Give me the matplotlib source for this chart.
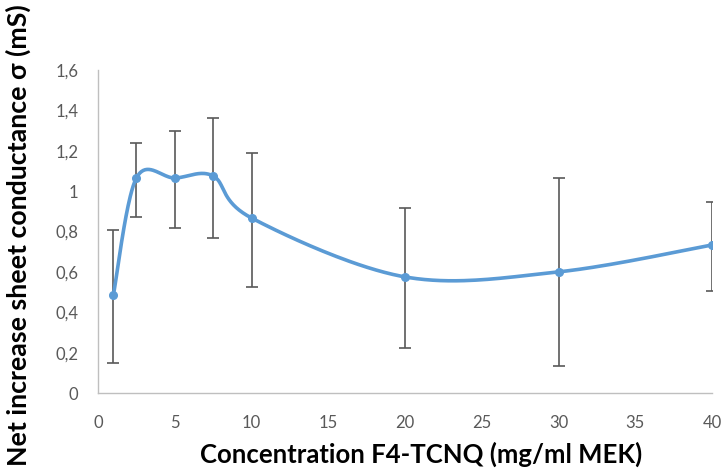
import numpy as np
import matplotlib
matplotlib.use("Agg")
import matplotlib.pyplot as plt
from matplotlib.ticker import FuncFormatter

# Data
concentration = [1, 2.5, 5, 7.5, 10, 20, 30, 40]
conductance = [0.485, 1.065, 1.065, 1.075, 0.867, 0.575, 0.600, 0.733]
err_upper = [0.807, 1.238, 1.298, 1.362, 1.189, 0.916, 1.065, 0.946]
err_lower = [0.149, 0.872, 0.817, 0.768, 0.525, 0.223, 0.134, 0.505]

x_ticks = [0, 5, 10, 15, 20, 25, 30, 35, 40]
y_ticks = [0, 0.2, 0.4, 0.6, 0.8, 1.0, 1.2, 1.4, 1.6]

x_label = "Concentration F4-TCNQ (mg/ml MEK)"
y_label = "Net increase sheet conductance σ (mS)"

plt.rcParams['font.family'] = ['Lato', 'DejaVu Sans']

fig = plt.figure(figsize=(7.28, 4.70), dpi=100)
ax = fig.add_axes([98/728, 1 - 393/470, (712-98)/728, (393-70)/470])

# Excel-like smoothed line (Catmull-Rom -> cubic Bezier)
x = np.array(concentration, float)
y = np.array(conductance, float)
pts = np.column_stack([x, y])
curve = []
t = np.linspace(0, 1, 40)
n = len(pts)
for i in range(n - 1):
    p0 = pts[i]
    p3 = pts[i + 1]
    pm = pts[i - 1] if i > 0 else pts[i]
    pp = pts[i + 2] if i + 2 < n else pts[i + 1]
    c1 = p0 + (p3 - pm) / 6.0
    c2 = p3 - (pp - p0) / 6.0
    seg = ((1 - t)[:, None] ** 3 * p0 + 3 * ((1 - t) ** 2 * t)[:, None] * c1
           + 3 * ((1 - t) * t ** 2)[:, None] * c2 + (t ** 3)[:, None] * p3)
    curve.append(seg)
curve = np.vstack(curve)

yerr = np.array([y - np.array(err_lower), np.array(err_upper) - y])
ax.errorbar(x, y, yerr=yerr, fmt='none', ecolor='#595959', elinewidth=1.2,
            capsize=4, capthick=1.2, zorder=2)
ax.plot(curve[:, 0], curve[:, 1], color='#5B9BD5', lw=2.6, zorder=3,
        solid_capstyle='round')
ax.plot(x, y, 'o', color='#5B9BD5', ms=5.5, zorder=4)

ax.set_xlim(0, 40)
ax.set_ylim(0, 1.6)
ax.set_xticks(x_ticks)
ax.set_yticks(y_ticks)
ax.yaxis.set_major_formatter(FuncFormatter(lambda v, p: ('%g' % round(v, 1)).replace('.', ',')))
ax.tick_params(length=0, labelsize=12, labelcolor='#595959')
ax.tick_params(axis='x', pad=16)
ax.tick_params(axis='y', pad=14)

for s in ['top', 'right']:
    ax.spines[s].set_visible(False)
for s in ['left', 'bottom']:
    ax.spines[s].set_color('#BFBFBF')
    ax.spines[s].set_linewidth(1.0)

fig.text(421/728, 1 - 454/470, x_label, ha='center', va='center',
         fontsize=18.5, fontweight='bold', color='black')
fig.text(18/728, 1 - 235/470, y_label, ha='center', va='center',
         rotation=90, fontsize=19.3, fontweight='bold', color='black')

fig.savefig('out.png', dpi=100)
